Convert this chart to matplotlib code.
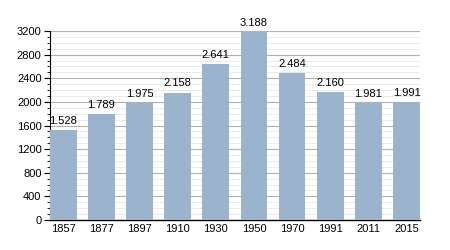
import matplotlib; matplotlib.use("Agg")
import matplotlib.pyplot as plt
from matplotlib.ticker import MultipleLocator

years = ["1857", "1877", "1897", "1910", "1930", "1950", "1970", "1991", "2011", "2015"]
pop = [1528, 1789, 1975, 2158, 2641, 3188, 2484, 2160, 1981, 1991]

plt.rcParams["font.family"] = ["Liberation Sans", "DejaVu Sans"]
fig = plt.figure(figsize=(4.5, 2.5), dpi=100)
ax = fig.add_axes([0.111, 0.12, 0.822, 0.756])

x = range(len(years))
ax.bar(x, pop, width=0.7, color="#9bb3cc", zorder=3)
for i, v in zip(x, pop):
    ax.text(i, v + 70, f"{v/1000:.3f}", ha="center", va="bottom", fontsize=8, zorder=4)

ax.set_xlim(-0.35, len(years) - 0.65)
ax.set_ylim(0, 3200)
ax.yaxis.set_major_locator(MultipleLocator(400))
ax.yaxis.set_minor_locator(MultipleLocator(100))
ax.grid(axis="y", which="major", color="#b0b0b0", lw=0.8, zorder=0)
ax.grid(axis="y", which="minor", color="#e6e6e6", lw=0.6, zorder=0)
ax.set_xticks(list(x))
ax.set_xticklabels(years)
ax.tick_params(axis="x", length=0, labelsize=8, pad=3)
ax.tick_params(axis="y", which="major", length=4, width=0.8, labelsize=8, pad=2)
ax.tick_params(axis="y", which="minor", length=2, width=0.6)
for s in ["top", "right"]:
    ax.spines[s].set_visible(False)
ax.spines["left"].set_linewidth(0.8)
ax.spines["bottom"].set_linewidth(1.0)

fig.savefig("out.png", dpi=100)
